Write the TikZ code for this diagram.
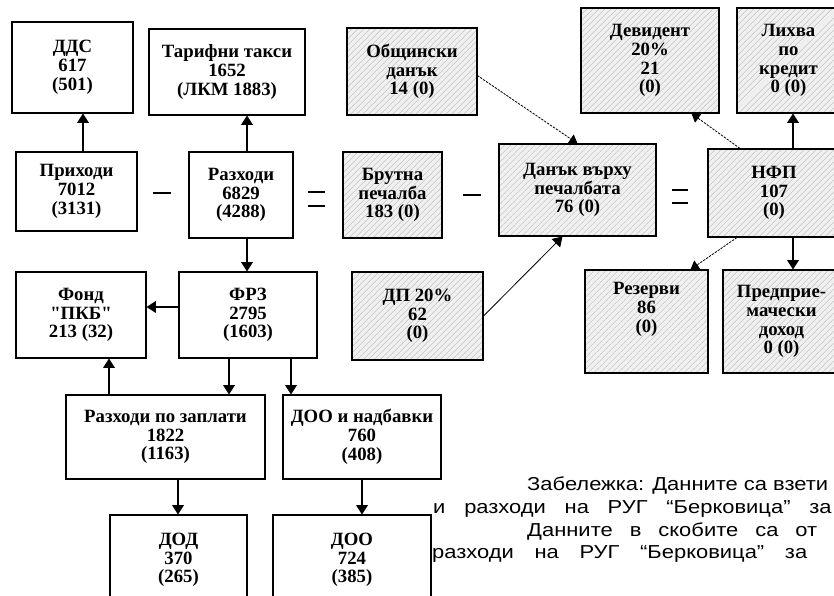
\documentclass[tikz,border=0pt]{standalone}
\usepackage{fontspec}
\setmainfont{Liberation Serif}
\newfontfamily\notefont[FakeStretch=1.17]{Liberation Sans}
\usetikzlibrary{arrows.meta,patterns.meta,calc}

\def\px{0.03cm}
\newcommand\boxfont{\fontsize{16}{16}\selectfont\bfseries}

\begin{document}
\begin{tikzpicture}[x=\px, y=-\px,
  box/.style={draw, line width=0.9pt, align=center, font=\boxfont, inner sep=1pt},
  hatch/.style={box, preaction={fill=gray!12}, pattern={Lines[angle=45,distance=4pt,line width=0.6pt]}, pattern color=gray!55},
  boxsize/.style 2 args={minimum width=#1*\px, minimum height=#2*\px},
  arr/.style={-{Triangle[width=10pt,length=8pt]}, line width=1pt},
  thin arr/.style={-{Triangle[width=9pt,length=7pt]}, line width=0.7pt, dash pattern=on 2pt off 1pt},
  sign/.style={line width=1pt},
  note/.style={anchor=base west, inner sep=0pt, font=\notefont\fontsize{16}{18}\selectfont}]
\useasboundingbox (0,0) rectangle (834,596);

\node[box, boxsize={121}{91}] (dds) at (72.5,67.5) {ДДС\\617\\(501)};
\node[box, boxsize={156}{86}] (tarif) at (227,72) {Тарифни такси\\1652\\(ЛКМ 1883)};
\node[hatch, boxsize={130}{87}] (obsht) at (412,71.5) {Общински\\данък\\14 (0)};
\node[hatch, boxsize={138}{105}] (divid) at (650,60.5) {Девидент\\20\%\\21\\(0)};
\node[hatch, boxsize={103}{105}] (lihva) at (788.5,60.5) {Лихва\\по\\кредит\\0 (0)};

\node[box, boxsize={121}{79}] (prih) at (76.5,191.5) {Приходи\\7012\\(3131)};
\node[box, boxsize={104}{86}] (razh) at (241,195) {Разходи\\6829\\(4288)};
\node[hatch, boxsize={99}{86}] (brutna) at (392.5,195) {Брутна\\печалба\\183 (0)};
\node[hatch, boxsize={157}{92}] (danak) at (577.5,190) {Данък върху\\печалбата\\76 (0)};
\node[hatch, boxsize={132}{88}] (nfp) at (774,193) {НФП\\107\\(0)};

\node[box, boxsize={130}{86}] (fond) at (81,315) {Фонд\\\textquotedbl ПКБ\textquotedbl\\213 (32)};
\node[box, boxsize={138}{86}] (frz) at (248,315) {ФРЗ\\2795\\(1603)};
\node[hatch, boxsize={131}{88}] (dp) at (417.5,316) {ДП 20\%\\62\\(0)};
\node[hatch, boxsize={123}{103}] (rezervi) at (646.5,321.5) {Резерви\\86\\(0)\\[8pt]};
\node[hatch, boxsize={117}{103}] (predpr) at (781.5,321.5) {Предприе-\\мачески\\доход\\0 (0)};

\node[box, boxsize={199}{84}] (zaplati) at (165.5,437) {Разходи по заплати\\1822\\(1163)};
\node[box, boxsize={158}{84}] (doonadb) at (362,437) {ДОО и надбавки\\760\\(408)};
\node[box, boxsize={137}{90}] (dod) at (178.5,560) {ДОД\\370\\(265)};
\node[box, boxsize={158}{90}] (doo) at (352,560) {ДОО\\724\\(385)};

% signs between the boxes
\draw[sign] (153,193) -- (171,193);
\draw[sign] (308,192) -- (325,192) (308,206) -- (325,206);
\draw[sign] (463,195) -- (481,195);
\draw[sign] (672,190) -- (688,190) (672,203) -- (688,203);

\draw[arr] ($(prih.north)+(6.5,0)$) -- ($(prih.north |- dds.south)+(6.5,0)$);
\draw[arr] ($(razh.north)+(6,0)$) -- ($(razh.north |- tarif.south)+(6,0)$);
\draw[arr] ($(razh.south)+(6,0)$) -- ($(razh.south |- frz.north)+(6,0)$);
\draw[arr] ($(frz.west)+(0,-8)$) -- ($(frz.west -| fond.east)+(0,-8)$);
\draw[arr] ($(frz.south)+(-19,0)$) -- ($(frz.south |- zaplati.north)+(-19,0)$);
\draw[arr] ($(frz.south)+(43,0)$) -- ($(frz.south |- doonadb.north)+(43,0)$);
\draw[arr] ($(zaplati.north)+(-56.5,0)$) -- ($(zaplati.north |- fond.south)+(-56.5,0)$);
\draw[arr] ($(zaplati.south)+(12.5,0)$) -- ($(zaplati.south |- dod.north)+(12.5,0)$);
\draw[arr] (doonadb.south) -- (doonadb.south |- doo.north);
\draw[thin arr] ($(obsht.east)+(0,4)$) -- (danak.north);
\draw[arr, line width=0.7pt] (dp.east) -- ($(danak.south)+(-15,0)$);
\draw[thin arr] ($(nfp.north)+(-34,0)$) -- ($(divid.south east)+(-28,0)$);
\draw[arr] ($(nfp.north)+(19,0)$) -- ($(nfp.north |- lihva.south)+(19,0)$);
\draw[arr] ($(nfp.south)+(19,0)$) -- ($(nfp.south |- predpr.north)+(19,0)$);
\draw[thin arr] ($(nfp.south)+(-37,0)$) -- ($(rezervi.north east)+(-18,0)$);

% note
\node[note] (n1) at (527,490) {Забележка: Данните са взети};
\node[note] (n2) at (433,513) {\makebox[11.95cm][s]{и разходи на РУГ “Берковица” за}};
\node[note] (n3) at (527,536) {\makebox[8.7cm][s]{Данните в скобите са от}};
\node[note] (n4) at (432,558) {\makebox[11.25cm][s]{разходи на РУГ “Берковица” за}};
\end{tikzpicture}
\end{document}
